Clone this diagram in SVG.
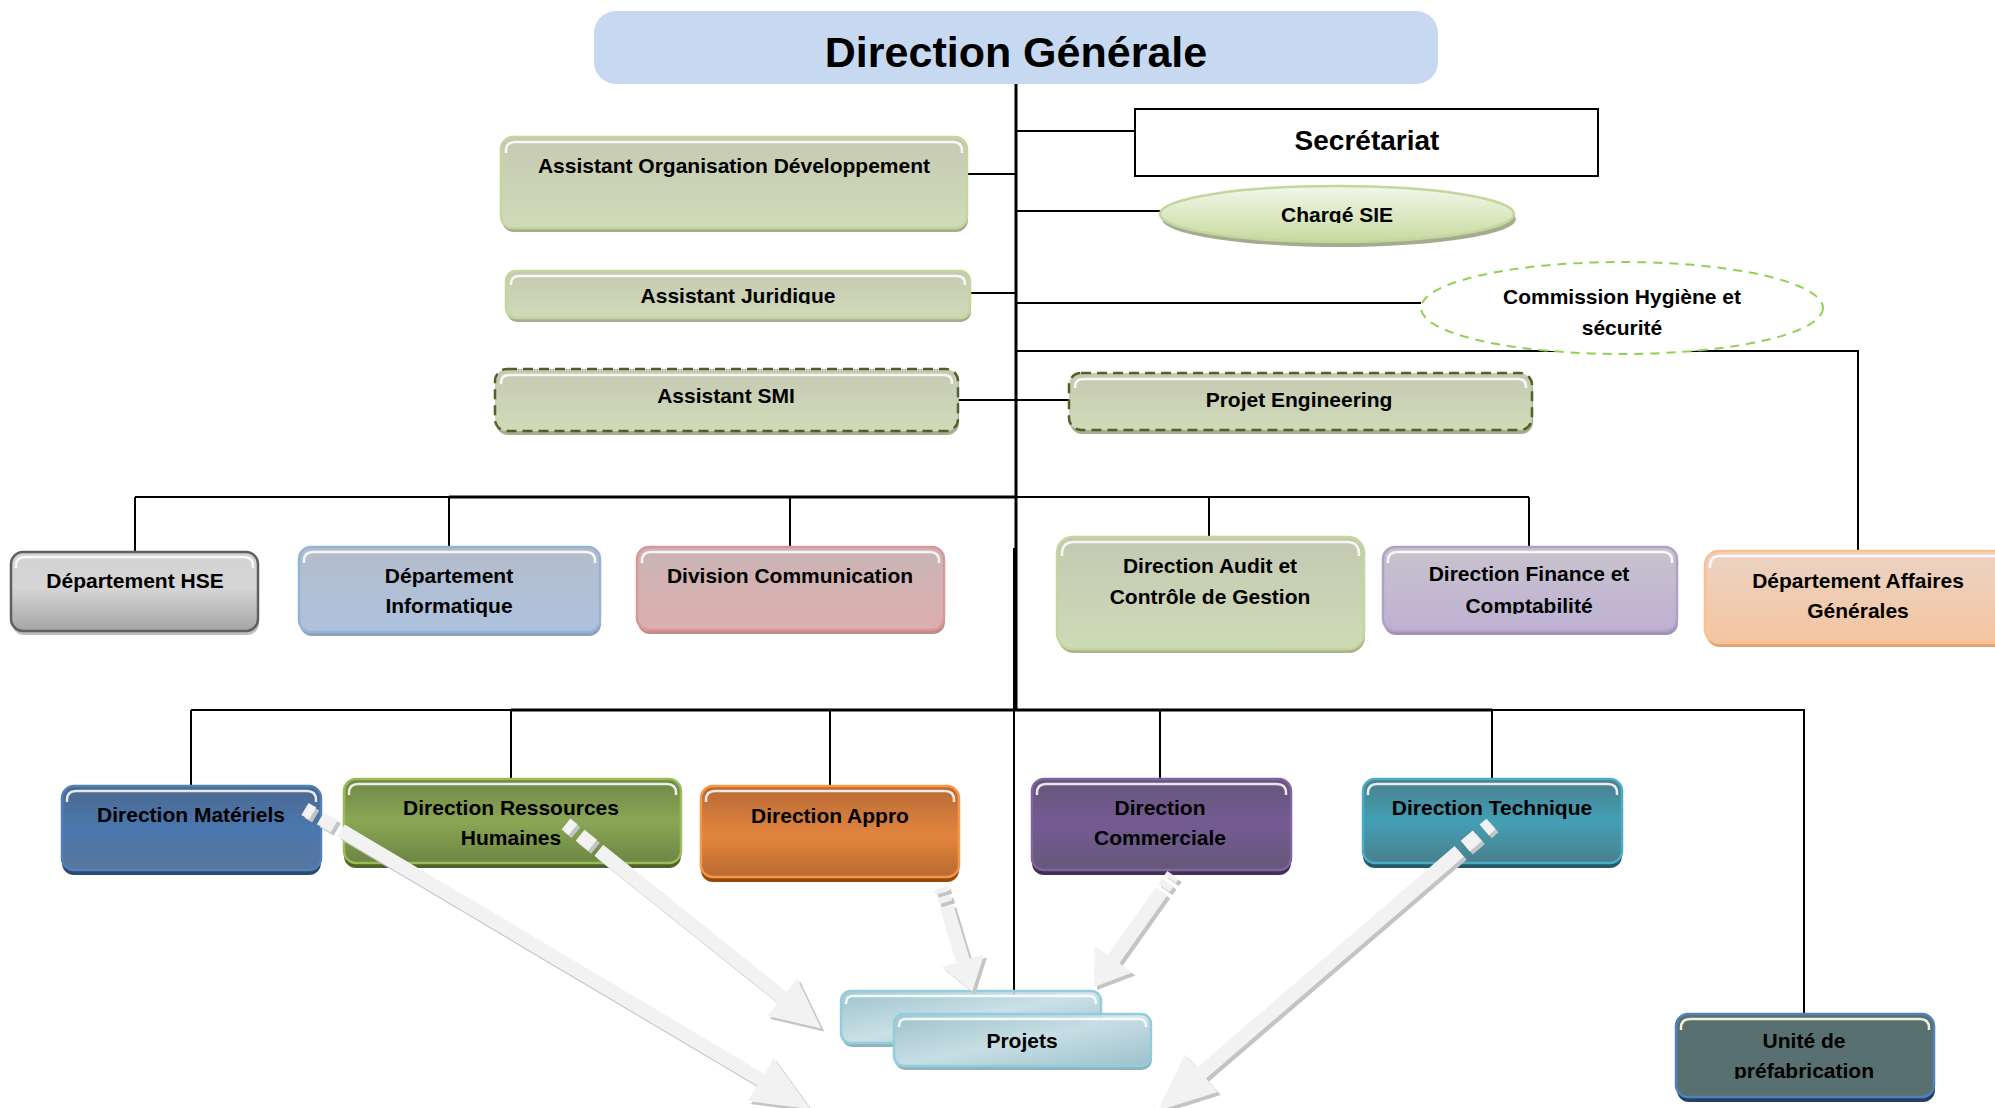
<svg xmlns="http://www.w3.org/2000/svg" width="1995" height="1108" viewBox="0 0 1995 1108">
  <style>
    .lbl { font-family: "Liberation Sans", Arial, sans-serif; font-weight: bold; font-size: 21px; text-anchor: middle; fill: #000; }
    .title { font-family: "Liberation Sans", Arial, sans-serif; font-weight: bold; font-size: 43px; text-anchor: middle; fill: #000; }
    .sec { font-family: "Liberation Sans", Arial, sans-serif; font-weight: bold; font-size: 28px; text-anchor: middle; fill: #000; }
    .ln { stroke: #000; stroke-width: 2; fill: none; }
    .lnb { stroke: #000; stroke-width: 3; fill: none; }
    .hl { fill: none; stroke: #fff; stroke-opacity: 0.85; stroke-width: 2.5; }
    .afill { fill: #f2f2f2; }
    .ashd { fill: #c4c4c4; }
  </style>
  <defs>
    <linearGradient id="gAsst" x1="0" y1="0" x2="0" y2="1"><stop offset="0" stop-color="#c6c9b2"/><stop offset="1" stop-color="#d0dbb8"/></linearGradient>
    <linearGradient id="gHse" x1="0" y1="0" x2="0" y2="1"><stop offset="0" stop-color="#d2d2d2"/><stop offset="0.45" stop-color="#d6d6d6"/><stop offset="1" stop-color="#a4a4a4"/></linearGradient>
    <linearGradient id="gInfo" x1="0" y1="0" x2="0" y2="1"><stop offset="0" stop-color="#b5bccb"/><stop offset="1" stop-color="#adc2dd"/></linearGradient>
    <linearGradient id="gComm" x1="0" y1="0" x2="0" y2="1"><stop offset="0" stop-color="#c9b5b5"/><stop offset="1" stop-color="#ddaeae"/></linearGradient>
    <linearGradient id="gAudit" x1="0" y1="0" x2="0" y2="1"><stop offset="0" stop-color="#c4c8b3"/><stop offset="1" stop-color="#cedbb6"/></linearGradient>
    <linearGradient id="gFin" x1="0" y1="0" x2="0" y2="1"><stop offset="0" stop-color="#c8c3cd"/><stop offset="1" stop-color="#beb1d3"/></linearGradient>
    <linearGradient id="gAff" x1="0" y1="0" x2="0" y2="1"><stop offset="0" stop-color="#ead3c4"/><stop offset="1" stop-color="#f5c5a0"/></linearGradient>
    <linearGradient id="gMat" x1="0" y1="0" x2="0" y2="1"><stop offset="0" stop-color="#4c6890"/><stop offset="0.5" stop-color="#4a77ae"/><stop offset="1" stop-color="#57769e"/></linearGradient>
    <linearGradient id="gRh" x1="0" y1="0" x2="0" y2="1"><stop offset="0" stop-color="#6e8848"/><stop offset="0.5" stop-color="#8ba653"/><stop offset="1" stop-color="#6c8644"/></linearGradient>
    <linearGradient id="gApp" x1="0" y1="0" x2="0" y2="1"><stop offset="0" stop-color="#b76a36"/><stop offset="0.55" stop-color="#e2853e"/><stop offset="1" stop-color="#b86a30"/></linearGradient>
    <linearGradient id="gCom" x1="0" y1="0" x2="0" y2="1"><stop offset="0" stop-color="#65567a"/><stop offset="0.5" stop-color="#745a93"/><stop offset="1" stop-color="#665878"/></linearGradient>
    <linearGradient id="gTech" x1="0" y1="0" x2="0" y2="1"><stop offset="0" stop-color="#4b7f8b"/><stop offset="0.5" stop-color="#429fb6"/><stop offset="1" stop-color="#4b808c"/></linearGradient>
    <linearGradient id="gProj" x1="0" y1="0" x2="1" y2="1"><stop offset="0" stop-color="#9fc4ce"/><stop offset="0.5" stop-color="#d0e5eb"/><stop offset="1" stop-color="#9ec4cf"/></linearGradient>
    <linearGradient id="gSie" x1="0" y1="0" x2="0" y2="1"><stop offset="0" stop-color="#f3f7ea"/><stop offset="1" stop-color="#c6da9f"/></linearGradient>
    <!-- label areas whose lower edge cuts descenders -->
    <clipPath id="cSie" clipPathUnits="userSpaceOnUse"><rect x="1160" y="180" width="360" height="43"/></clipPath>
    <clipPath id="cAj" clipPathUnits="userSpaceOnUse"><rect x="506" y="271" width="464" height="33"/></clipPath>
    <clipPath id="cFin" clipPathUnits="userSpaceOnUse"><rect x="1383" y="590" width="294" height="24"/></clipPath>
    <clipPath id="cUnit" clipPathUnits="userSpaceOnUse"><rect x="1676" y="1055" width="258" height="24"/></clipPath>
  </defs>

  <rect width="1995" height="1108" fill="#fff"/>

  <!-- connectors -->
  <g id="connectors">
    <line class="lnb" x1="1016" y1="84" x2="1016" y2="710"/>
    <line class="ln" x1="1014" y1="548" x2="1014" y2="1014"/>
    <line class="ln" x1="1016" y1="131" x2="1135" y2="131"/>
    <line class="ln" x1="967" y1="174" x2="1016" y2="174"/>
    <line class="ln" x1="1016" y1="211" x2="1162" y2="211"/>
    <line class="ln" x1="970" y1="293" x2="1016" y2="293"/>
    <line class="ln" x1="1016" y1="303" x2="1421" y2="303"/>
    <polyline class="ln" points="1016,351 1858,351 1858,551"/>
    <line class="ln" x1="958" y1="400" x2="1069" y2="400"/>
    <line class="ln" x1="135" y1="497" x2="449" y2="497"/>
    <line class="lnb" x1="449" y1="497" x2="1016" y2="497"/>
    <line class="ln" x1="1016" y1="497" x2="1529" y2="497"/>
    <line class="ln" x1="135" y1="497" x2="135" y2="552"/>
    <line class="ln" x1="449" y1="497" x2="449" y2="547"/>
    <line class="ln" x1="790" y1="497" x2="790" y2="547"/>
    <line class="ln" x1="1209" y1="497" x2="1209" y2="537"/>
    <line class="ln" x1="1529" y1="497" x2="1529" y2="547"/>
    <line class="ln" x1="191" y1="710" x2="511" y2="710"/>
    <line class="lnb" x1="511" y1="710" x2="1492" y2="710"/>
    <polyline class="ln" points="1492,710 1804,710 1804,1014"/>
    <line class="ln" x1="191" y1="710" x2="191" y2="786"/>
    <line class="ln" x1="511" y1="710" x2="511" y2="779"/>
    <line class="ln" x1="830" y1="710" x2="830" y2="786"/>
    <line class="ln" x1="1160" y1="710" x2="1160" y2="779"/>
    <line class="ln" x1="1492" y1="710" x2="1492" y2="779"/>
  </g>

  <!-- top of the chart -->
  <g id="n-direction-generale">
    <rect x="594" y="11" width="844" height="73" rx="22" fill="#c6d9f1"/>
    <text class="title" x="1016" y="67">Direction Générale</text>
  </g>

  <g id="n-secretariat">
    <rect x="1135" y="109" width="463" height="67" fill="#fff" stroke="#000" stroke-width="2"/>
    <text class="sec" x="1367" y="150">Secrétariat</text>
  </g>

  <g id="n-assistant-org">
    <rect x="502" y="141" width="466" height="91" rx="12" fill="#a7ad95"/>
    <rect x="501" y="137" width="466" height="91" rx="12" fill="url(#gAsst)" stroke="#c3d69b" stroke-width="2.5"/>
    <path class="hl" d="M506,153 V151 Q506,142 515,142 H953 Q962,142 962,151 V153"/>
    <text class="lbl" x="734" y="173">Assistant Organisation Développement</text>
  </g>

  <g id="n-charge-sie">
    <ellipse cx="1339" cy="219" rx="177" ry="28" fill="#a5ab90"/>
    <ellipse cx="1337" cy="214" rx="177" ry="28" fill="url(#gSie)" stroke="#c3d69b" stroke-width="2.5"/>
    <g clip-path="url(#cSie)"><text class="lbl" x="1337" y="222">Chargé SIE</text></g>
  </g>

  <g id="n-assistant-juridique">
    <rect x="507" y="275" width="464" height="47" rx="10" fill="#a7ad95"/>
    <rect x="506" y="271" width="464" height="47" rx="10" fill="url(#gAsst)" stroke="#c3d69b" stroke-width="2.5"/>
    <path class="hl" d="M511,285 V284 Q511,276 519,276 H957 Q965,276 965,284 V285"/>
    <g clip-path="url(#cAj)"><text class="lbl" x="738" y="303">Assistant Juridique</text></g>
  </g>

  <g id="n-commission">
    <ellipse cx="1622" cy="308" rx="201" ry="46" fill="#fff" stroke="#92d050" stroke-width="2" stroke-dasharray="9 7"/>
    <text class="lbl" x="1622" y="304">Commission Hygiène et</text>
    <text class="lbl" x="1622" y="335">sécurité</text>
  </g>

  <g id="n-assistant-smi">
    <rect x="496" y="373" width="463" height="62" rx="12" fill="#a7ad95"/>
    <rect x="495" y="369" width="463" height="62" rx="12" fill="url(#gAsst)" stroke="#4f6228" stroke-width="2.5" stroke-dasharray="10 6"/>
    <path class="hl" d="M501,384 V383 Q501,375 509,375 H944 Q952,375 952,383 V384"/>
    <text class="lbl" x="726" y="403">Assistant SMI</text>
  </g>

  <g id="n-projet-engineering">
    <rect x="1070" y="377" width="463" height="57" rx="12" fill="#a7ad95"/>
    <rect x="1069" y="373" width="463" height="57" rx="12" fill="url(#gAsst)" stroke="#4f6228" stroke-width="2.5" stroke-dasharray="10 6"/>
    <path class="hl" d="M1075,388 V387 Q1075,379 1083,379 H1518 Q1526,379 1526,387 V388"/>
    <text class="lbl" x="1299" y="407">Projet Engineering</text>
  </g>

  <!-- second row -->
  <g id="n-dep-hse">
    <rect x="12" y="556" width="247" height="79" rx="12" fill="#bdbdbd"/>
    <rect x="11" y="552" width="247" height="79" rx="12" fill="url(#gHse)" stroke="#5f5f5f" stroke-width="2.5"/>
    <path class="hl" d="M16,568 V566 Q16,557 25,557 H244 Q253,557 253,566 V568"/>
    <text class="lbl" x="135" y="588">Département HSE</text>
  </g>

  <g id="n-dep-info">
    <rect x="300" y="551" width="301" height="85" rx="12" fill="#8da0b8"/>
    <rect x="299" y="547" width="301" height="85" rx="12" fill="url(#gInfo)" stroke="#95b3d7" stroke-width="2.5"/>
    <path class="hl" d="M304,563 V561 Q304,552 313,552 H586 Q595,552 595,561 V563"/>
    <text class="lbl" x="449" y="583">Département</text>
    <text class="lbl" x="449" y="613">Informatique</text>
  </g>

  <g id="n-div-comm">
    <rect x="638" y="551" width="307" height="83" rx="12" fill="#c08c8a"/>
    <rect x="637" y="547" width="307" height="83" rx="12" fill="url(#gComm)" stroke="#d99694" stroke-width="2.5"/>
    <path class="hl" d="M642,563 V561 Q642,552 651,552 H930 Q939,552 939,561 V563"/>
    <text class="lbl" x="790" y="583">Division Communication</text>
  </g>

  <g id="n-dir-audit">
    <rect x="1058" y="541" width="307" height="112" rx="16" fill="#a9b48e"/>
    <rect x="1057" y="537" width="307" height="112" rx="16" fill="url(#gAudit)" stroke="#c3d69b" stroke-width="2.5"/>
    <path class="hl" d="M1062,556 V554 Q1062,542 1074,542 H1347 Q1359,542 1359,554 V556"/>
    <text class="lbl" x="1210" y="573">Direction Audit et</text>
    <text class="lbl" x="1210" y="604">Contrôle de Gestion</text>
  </g>

  <g id="n-dir-finance">
    <rect x="1384" y="551" width="294" height="84" rx="12" fill="#9f92b2"/>
    <rect x="1383" y="547" width="294" height="84" rx="12" fill="url(#gFin)" stroke="#b2a1c7" stroke-width="2.5"/>
    <path class="hl" d="M1388,563 V561 Q1388,552 1397,552 H1663 Q1672,552 1672,561 V563"/>
    <text class="lbl" x="1529" y="581">Direction Finance et</text>
    <g clip-path="url(#cFin)"><text class="lbl" x="1529" y="613">Comptabilité</text></g>
  </g>

  <g id="n-dep-affaires">
    <rect x="1706" y="555" width="310" height="92" rx="14" fill="#d9a57a"/>
    <rect x="1705" y="551" width="310" height="92" rx="14" fill="url(#gAff)" stroke="#fac090" stroke-width="2.5"/>
    <path class="hl" d="M1710,568 V566 Q1710,556 1720,556 H2000 Q2010,556 2010,566 V568"/>
    <text class="lbl" x="1858" y="588">Département Affaires</text>
    <text class="lbl" x="1858" y="618">Générales</text>
  </g>

  <!-- third row -->
  <g id="n-dir-materiels">
    <rect x="62" y="791" width="259" height="84" rx="12" fill="#2c4a6e"/>
    <rect x="62" y="786" width="259" height="84" rx="12" fill="url(#gMat)" stroke="#4f81bd" stroke-width="2.5"/>
    <path class="hl" d="M67,802 V800 Q67,791 76,791 H307 Q316,791 316,800 V802"/>
    <text class="lbl" x="191" y="822">Direction Matériels</text>
  </g>

  <g id="n-dir-rh">
    <rect x="344" y="784" width="337" height="84" rx="12" fill="#4f6228"/>
    <rect x="344" y="779" width="337" height="84" rx="12" fill="url(#gRh)" stroke="#9bbb59" stroke-width="2.5"/>
    <path class="hl" d="M349,795 V793 Q349,784 358,784 H667 Q676,784 676,793 V795"/>
    <text class="lbl" x="511" y="815">Direction Ressources</text>
    <text class="lbl" x="511" y="845">Humaines</text>
  </g>

  <g id="n-dir-appro">
    <rect x="701" y="791" width="258" height="91" rx="12" fill="#974806"/>
    <rect x="701" y="786" width="258" height="91" rx="12" fill="url(#gApp)" stroke="#f79646" stroke-width="2.5"/>
    <path class="hl" d="M706,802 V800 Q706,791 715,791 H945 Q954,791 954,800 V802"/>
    <text class="lbl" x="830" y="823">Direction Appro</text>
  </g>

  <g id="n-dir-commerciale">
    <rect x="1032" y="784" width="259" height="91" rx="12" fill="#3f3151"/>
    <rect x="1032" y="779" width="259" height="91" rx="12" fill="url(#gCom)" stroke="#8064a2" stroke-width="2.5"/>
    <path class="hl" d="M1037,795 V793 Q1037,784 1046,784 H1277 Q1286,784 1286,793 V795"/>
    <text class="lbl" x="1160" y="815">Direction</text>
    <text class="lbl" x="1160" y="845">Commerciale</text>
  </g>

  <g id="n-dir-technique">
    <rect x="1363" y="784" width="259" height="84" rx="12" fill="#215b69"/>
    <rect x="1363" y="779" width="259" height="84" rx="12" fill="url(#gTech)" stroke="#4bacc6" stroke-width="2.5"/>
    <path class="hl" d="M1368,795 V793 Q1368,784 1377,784 H1608 Q1617,784 1617,793 V795"/>
    <text class="lbl" x="1492" y="815">Direction Technique</text>
  </g>

  <g id="n-projets">
    <rect x="842" y="995" width="260" height="52" rx="10" fill="#8fb3bd"/>
    <rect x="841" y="991" width="260" height="52" rx="10" fill="url(#gProj)" stroke="#92cddc" stroke-width="2.5" fill-opacity="0.9"/>
    <path class="hl" d="M846,1004 V1003 Q846,996 853,996 H1089 Q1096,996 1096,1003 V1004"/>
    <rect x="895" y="1018" width="257" height="52" rx="10" fill="#8fb3bd"/>
    <rect x="894" y="1014" width="257" height="52" rx="10" fill="url(#gProj)" stroke="#92cddc" stroke-width="2.5" fill-opacity="0.85"/>
    <path class="hl" d="M899,1027 V1026 Q899,1019 906,1019 H1139 Q1146,1019 1146,1026 V1027"/>
    <text class="lbl" x="1022" y="1048">Projets</text>
  </g>

  <g id="n-unite-prefab">
    <rect x="1677" y="1019" width="258" height="83" rx="12" fill="#244061"/>
    <rect x="1676" y="1014" width="258" height="83" rx="12" fill="#587070" stroke="#4f81bd" stroke-width="2.5"/>
    <path d="M1681,1030 V1028 Q1681,1019 1690,1019 H1920 Q1929,1019 1929,1028 V1030" fill="none" stroke="#f2f0dc" stroke-width="2.5"/>
    <text class="lbl" x="1804" y="1048">Unité de</text>
    <g clip-path="url(#cUnit)"><text class="lbl" x="1804" y="1078">préfabrication</text></g>
  </g>

  <!-- striped block arrows toward the project boxes -->
  <g id="flow-arrows">
    <g transform="translate(308,812) rotate(30.7)" class="ashd">
      <rect x="0" y="-7" width="9" height="14"/><rect x="18" y="-7" width="16" height="14"/>
      <polygon points="42,-7 530,-7 530,-25 588,0 530,25 530,7 42,7"/>
    </g>
    <g transform="translate(305,809) rotate(30.7)" class="afill">
      <rect x="0" y="-7" width="9" height="14"/><rect x="18" y="-7" width="16" height="14"/>
      <polygon points="42,-7 530,-7 530,-25 588,0 530,25 530,7 42,7"/>
    </g>

    <g transform="translate(569,827) rotate(38.7)" class="ashd">
      <rect x="0" y="-7" width="9" height="14"/><rect x="18" y="-7" width="16" height="14"/>
      <polygon points="42,-7 277,-7 277,-24 327,0 277,24 277,7 42,7"/>
    </g>
    <g transform="translate(566,824) rotate(38.7)" class="afill">
      <rect x="0" y="-7" width="9" height="14"/><rect x="18" y="-7" width="16" height="14"/>
      <polygon points="42,-7 277,-7 277,-24 327,0 277,24 277,7 42,7"/>
    </g>

    <g transform="translate(944,891) rotate(73.2)" class="ashd">
      <rect x="0" y="-7" width="5" height="14"/><rect x="9" y="-7" width="6" height="14"/>
      <polygon points="19,-7 76,-7 76,-22 108,0 76,22 76,7 19,7"/>
    </g>
    <g transform="translate(941,888) rotate(73.2)" class="afill">
      <rect x="0" y="-7" width="5" height="14"/><rect x="9" y="-7" width="6" height="14"/>
      <polygon points="19,-7 76,-7 76,-22 108,0 76,22 76,7 19,7"/>
    </g>

    <g transform="translate(1176,878) rotate(125.2)" class="ashd">
      <rect x="0" y="-7" width="5" height="14"/><rect x="9" y="-7" width="7" height="14"/>
      <polygon points="20,-7 103,-7 103,-23 137,0 103,23 103,7 20,7"/>
    </g>
    <g transform="translate(1173,875) rotate(125.2)" class="afill">
      <rect x="0" y="-7" width="5" height="14"/><rect x="9" y="-7" width="7" height="14"/>
      <polygon points="20,-7 103,-7 103,-23 137,0 103,23 103,7 20,7"/>
    </g>

    <g transform="translate(1494,827) rotate(139.3)" class="ashd">
      <rect x="0" y="-7" width="9" height="14"/><rect x="18" y="-7" width="16" height="14"/>
      <polygon points="42,-7 382,-7 382,-25 440,0 382,25 382,7 42,7"/>
    </g>
    <g transform="translate(1491,824) rotate(139.3)" class="afill">
      <rect x="0" y="-7" width="9" height="14"/><rect x="18" y="-7" width="16" height="14"/>
      <polygon points="42,-7 382,-7 382,-25 440,0 382,25 382,7 42,7"/>
    </g>
  </g>
</svg>
